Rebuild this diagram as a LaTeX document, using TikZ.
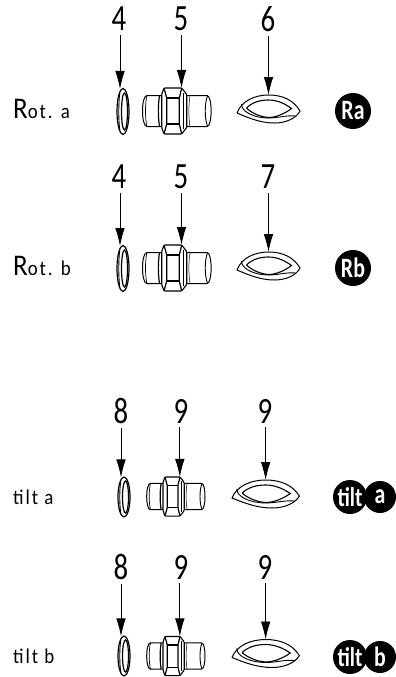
\documentclass[tikz,border=0pt]{standalone}
\usepackage{fontspec}
\usepackage{tikz}
\usetikzlibrary{arrows.meta}
\newfontfamily\partfont[FakeStretch=0.78]{Carlito}
\newfontfamily\labelfont[FakeStretch=0.9,LetterSpace=9]{Carlito}
\tikzset{
	partnum/.style={font=\partfont\fontsize{37}{37}\selectfont, inner sep=0pt},
	rowlabel/.style={anchor=base west, inner sep=0pt, font=\labelfont\fontsize{21}{21}\selectfont},
	callout/.style={line width=.8pt, shorten <=4pt, -{Latex[length=18pt,width=9.5pt]}},
	badge/.style={circle, fill=black, text=white, inner sep=0pt, font=\partfont\bfseries},
	washerpart/.pic={
		\draw[line width=1.2pt] (0,0) ellipse [x radius=6, y radius=23];
		\draw[line width=1.2pt] (1.5,0) ellipse [x radius=3, y radius=18.5];
		\draw[line width=.9pt] (-3.2,-19) .. controls (-4.6,-8) and (-4.6,8) .. (-3.2,19);
		\coordinate (-top) at (-3,-22.5);
	},
	unionpart/.pic={
		% left and right pipe
		\draw[line width=1pt] (-15,-15.5) -- (-30,-15.5) .. controls (-36,-15.5) and (-36,15.5) .. (-30,15.5) -- (-15,15.5);
		\draw[line width=.7pt] (-30,-15.5) .. controls (-32,-8) and (-32,8) .. (-30,15.5);
		\draw[line width=1pt] (9,-15.5) -- (30,-15.5) .. controls (35.5,-15.5) and (35.5,15.5) .. (30,15.5) -- (9,15.5);
		\draw[line width=.9pt] (30.5,-15) .. controls (27.5,-8) and (27.5,8) .. (30.5,15);
		\draw[line width=.5pt] (13,-15.5) .. controls (11.5,-6) and (11.5,6) .. (13,15.5);
		\draw[line width=1.2pt] (-17.5,-15.5) .. controls (-19,-6) and (-19,6) .. (-17.5,15.5);
		% nut
		\draw[line width=1.1pt, fill=white, rounded corners=1pt] (-15.3,-16.5) -- (-13,-23) -- (4.7,-23) -- (9.7,-16.5) -- (9.7,16.5) -- (4.7,23) -- (-13,23) -- (-15.3,16.5) -- cycle;
		\draw[line width=1.2pt] (-13,-23) -- (-10.3,-13) -- (-10.3,13) -- (-13,23);
		\draw[line width=1.2pt] (4.7,-23) -- (2.3,-13) -- (2.3,13) -- (4.7,23);
		\draw[line width=1.1pt] (-10.3,-13) -- (2.3,-13) (-10.3,13) -- (2.3,13);
		\draw[line width=.7pt] (6.5,-18) -- (6.5,18);
		\coordinate (-top) at (4.5,-23);
	},
	ringpart/.pic={
		\draw[line width=1pt, line join=miter] (-29.5,4) .. controls (-25,-8) and (-12,-14) .. (2,-14) .. controls (16,-14) and (27,-9) .. (33.5,2) .. controls (30,9) and (20,14) .. (8,14) .. controls (-6,14) and (-18,9) .. (-29.5,4);
		\draw[line width=.9pt] (-25,-5) .. controls (-25,3) and (-12,9) .. (2,9) .. controls (12,9) and (20,6) .. (29,7);
		\draw[line width=1.1pt] (-20,-1) .. controls (-14,-7) and (-6,-9) .. (2,-9) .. controls (11,-9) and (19,-5) .. (25,-.5) .. controls (18,5) and (9,8.5) .. (2,8.5) .. controls (-6,8) and (-15,4) .. (-20,-1);
		\coordinate (-top) at (2,-14);
	}
}
\begin{document}
\begin{tikzpicture}[x=1pt, y=-1pt]
	\useasboundingbox (0,0) rectangle (396,677);
	% first row
	\node[rowlabel] (rota) at (13,118) {{\fontsize{30}{30}\selectfont R}ot. a};
	\pic (washa) at (123,111.5) {washerpart};
	\pic (uniona) at (177,111) {unionpart};
	\pic (ringa) at (266.5,109) {ringpart};
	\node[partnum] (numa4) at (119,19) {4};
	\node[partnum] (numa5) at (181,19) {5};
	\node[partnum] (numa6) at (268,19) {6};
	\draw[callout] (numa4.south -| washa-top) -- (washa-top);
	\draw[callout] (numa5.south -| uniona-top) -- (uniona-top);
	\draw[callout] (numa6.south -| ringa-top) -- (ringa-top);
	\node[badge, minimum size=36pt, font=\partfont\bfseries\fontsize{28}{28}\selectfont] (badgera) at (353,111) {Ra};
	% second row
	\node[rowlabel] (rotb) at (13,275) {{\fontsize{30}{30}\selectfont R}ot. b};
	\pic (washb) at (123,268.5) {washerpart};
	\pic (unionb) at (177,268) {unionpart};
	\pic (ringb) at (266.5,266) {ringpart};
	\node[partnum] (numb4) at (119,177) {4};
	\node[partnum] (numb5) at (181,177) {5};
	\node[partnum] (numb7) at (268,177) {7};
	\draw[callout] (numb4.south -| washb-top) -- (washb-top);
	\draw[callout] (numb5.south -| unionb-top) -- (unionb-top);
	\draw[callout] (numb7.south -| ringb-top) -- (ringb-top);
	\node[badge, minimum size=36pt, font=\partfont\bfseries\fontsize{28}{28}\selectfont] (badgerb) at (353,268) {Rb};
	% tilt rows are drawn smaller
	\node[rowlabel] (tilta) at (13,504) {tilt a};
	\pic[yscale=.87] (washc) at (124,497) {washerpart};
	\pic[scale=.85] (unionc) at (176,496.5) {unionpart};
	\pic[xscale=1.07] (ringc) at (263.5,494) {ringpart};
	\node[partnum] (numc8) at (121,411) {8};
	\node[partnum] (numc9) at (181,411) {9};
	\node[partnum] (numd9) at (265,411) {9};
	\draw[callout] (numc8.south -| washc-top) -- (washc-top);
	\draw[callout] (numc9.south -| unionc-top) -- (unionc-top);
	\draw[callout] (numd9.south -| ringc-top) -- (ringc-top);
	\node[badge, minimum size=34pt, font=\partfont\bfseries\fontsize{27}{27}\selectfont] (badgetilta) at (350,497) {tilt};
	\node[badge, minimum size=32pt, font=\partfont\bfseries\fontsize{28}{28}\selectfont] (badgea) at (380,497) {a};
	% last row
	\node[rowlabel] (tiltb) at (13,663) {tilt b};
	\pic[yscale=.87] (washd) at (124,656) {washerpart};
	\pic[scale=.85] (uniond) at (176,656) {unionpart};
	\pic[xscale=1.07] (ringd) at (263.5,653.5) {ringpart};
	\node[partnum] (nume8) at (121,567) {8};
	\node[partnum] (nume9) at (181,567) {9};
	\node[partnum] (numf9) at (265,567) {9};
	\draw[callout] (nume8.south -| washd-top) -- (washd-top);
	\draw[callout] (nume9.south -| uniond-top) -- (uniond-top);
	\draw[callout] (numf9.south -| ringd-top) -- (ringd-top);
	\node[badge, minimum size=34pt, font=\partfont\bfseries\fontsize{27}{27}\selectfont] (badgetiltb) at (350,657) {tilt};
	\node[badge, minimum size=32pt, font=\partfont\bfseries\fontsize{28}{28}\selectfont] (badgeb) at (380,657) {b};
\end{tikzpicture}
\end{document}
